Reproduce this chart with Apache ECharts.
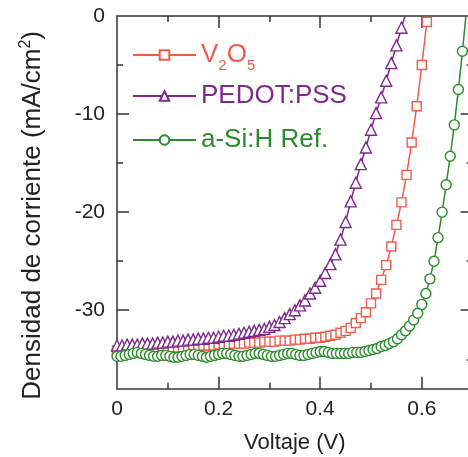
<!DOCTYPE html>
<html>
<head>
<meta charset="utf-8">
<script src="https://cdn.jsdelivr.net/npm/echarts@6/dist/echarts.min.js"></script>
<style>
  html, body { margin: 0; padding: 0; background: #fff; }
  #chart { width: 468px; height: 457px; }
</style>
</head>
<body>
<div id="chart"></div>
<script>
// voltaje (V) para V2O5 y PEDOT:PSS
const voltaje = [0, 0.01, 0.02, 0.03, 0.04, 0.05, 0.06, 0.07, 0.08, 0.09,
  0.10, 0.11, 0.12, 0.13, 0.14, 0.15, 0.16, 0.17, 0.18, 0.19,
  0.20, 0.21, 0.22, 0.23, 0.24, 0.25, 0.26, 0.27, 0.28, 0.29,
  0.30, 0.31, 0.32, 0.33, 0.34, 0.35, 0.36, 0.37, 0.38, 0.39,
  0.40, 0.41, 0.42, 0.43, 0.44, 0.45, 0.46, 0.47, 0.48, 0.49,
  0.50, 0.51, 0.52, 0.53, 0.54, 0.55, 0.56, 0.57, 0.58, 0.59,
  0.60, 0.61];

const jV2O5 = [-34.1, -34.1, -34.0, -34.0, -34.0, -34.0, -34.0, -33.9, -33.9, -33.9,
  -33.9, -33.8, -33.8, -33.8, -33.7, -33.7, -33.7, -33.6, -33.6, -33.6,
  -33.5, -33.5, -33.5, -33.4, -33.4, -33.4, -33.3, -33.3, -33.3, -33.2,
  -33.2, -33.2, -33.1, -33.1, -33.1, -33.0, -33.0, -32.9, -32.9, -32.8,
  -32.8, -32.7, -32.6, -32.5, -32.3, -32.1, -31.8, -31.3, -30.8, -30.2,
  -29.3, -28.3, -26.9, -25.4, -23.5, -21.3, -19.0, -16.2, -12.9, -9.2,
  -5.0, -0.6];

const jPEDOT = [-33.6, -33.6, -33.5, -33.5, -33.5, -33.4, -33.4, -33.4, -33.3, -33.3,
  -33.2, -33.2, -33.1, -33.1, -33.0, -33.0, -32.9, -32.9, -32.8, -32.8,
  -32.7, -32.6, -32.6, -32.5, -32.4, -32.3, -32.2, -32.1, -32.0, -31.9,
  -31.7, -31.5, -31.2, -30.8, -30.4, -30.0, -29.5, -29.0, -28.3, -27.7,
  -27.0, -26.2, -25.3, -24.3, -22.8, -21.0, -18.9, -17.0, -15.1, -13.4,
  -11.6, -9.9, -8.3, -6.6, -4.8, -3.0, -1.2, 0.5];

// a-Si:H de referencia, medida con paso más fino
const voltajeSi = [0, 0.008, 0.016, 0.024, 0.032, 0.040, 0.048, 0.056, 0.064, 0.072,
  0.080, 0.088, 0.096, 0.104, 0.112, 0.120, 0.128, 0.136, 0.144, 0.152,
  0.160, 0.168, 0.176, 0.184, 0.192, 0.200, 0.208, 0.216, 0.224, 0.232,
  0.240, 0.248, 0.256, 0.264, 0.272, 0.280, 0.288, 0.296, 0.304, 0.312,
  0.320, 0.328, 0.336, 0.344, 0.352, 0.360, 0.368, 0.376, 0.384, 0.392,
  0.400, 0.408, 0.416, 0.424, 0.432, 0.440, 0.448, 0.456, 0.464, 0.472,
  0.480, 0.488, 0.496, 0.504, 0.512, 0.520, 0.528, 0.536, 0.544, 0.552,
  0.560, 0.568, 0.576, 0.584, 0.592, 0.600, 0.608, 0.616, 0.624, 0.632,
  0.640, 0.648, 0.656, 0.664, 0.672, 0.680, 0.688];

const jSi = [-34.7, -34.7, -34.6, -34.5, -34.4, -34.3, -34.4, -34.5, -34.6, -34.7,
  -34.7, -34.6, -34.6, -34.7, -34.8, -34.8, -34.7, -34.6, -34.5, -34.5,
  -34.6, -34.7, -34.8, -34.7, -34.6, -34.5, -34.4, -34.4, -34.5, -34.6,
  -34.7, -34.7, -34.6, -34.5, -34.4, -34.4, -34.5, -34.6, -34.7, -34.7,
  -34.6, -34.5, -34.4, -34.4, -34.5, -34.6, -34.6, -34.5, -34.4, -34.3,
  -34.2, -34.2, -34.3, -34.4, -34.4, -34.4, -34.4, -34.4, -34.3, -34.3,
  -34.3, -34.2, -34.1, -34.0, -33.9, -33.7, -33.6, -33.4, -33.2, -32.9,
  -32.5, -32.1, -31.6, -31.0, -30.3, -29.4, -28.3, -26.8, -25.0, -22.6,
  -20.0, -17.2, -14.3, -11.1, -7.5, -3.6, 0.6];

const xLabels = [0, 0.2, 0.4, 0.6];
const xMinor = [0.1, 0.3, 0.5];
const yLabels = [0, -10, -20, -30];
const yMinor = [-5, -15, -25, -35];

const ROJO = '#ef5b4c';
const MORADO = '#7d2a8b';
const VERDE = '#2b8a2b';
const EJE = '#333';
const FUENTE = '"Liberation Sans", Arial, sans-serif';

const chart = echarts.init(document.getElementById('chart'), null, { renderer: 'canvas' });

const pares = (v, j) => j.map((y, i) => [v[i], y]);

const serie = (name, v, j, color, symbol, size) => ({
  name: name,
  type: 'line',
  xAxisIndex: 0,
  yAxisIndex: 0,
  data: pares(v, j),
  symbol: symbol,
  symbolSize: size,
  showAllSymbol: true,
  clip: true,
  lineStyle: { color: color, width: 1.5 },
  itemStyle: { color: '#fff', borderColor: color, borderWidth: 1.4 },
  emphasis: { disabled: true }
});

// ejes auxiliares solo para marcas (mayores / menores)
const ejeX = (pos, ticks, len, showLine) => ({
  type: 'value', min: 0, max: 0.7, position: pos,
  axisLine: { show: showLine, onZero: false, lineStyle: { color: EJE, width: 1.5 } },
  axisTick: { show: true, inside: true, length: len, customValues: ticks, lineStyle: { color: EJE, width: 1.5 } },
  axisLabel: { show: false },
  splitLine: { show: false }
});
const ejeY = (pos, ticks, len, showLine) => ({
  type: 'value', min: -38, max: 0, position: pos,
  axisLine: { show: showLine, onZero: false, lineStyle: { color: EJE, width: 1.5 } },
  axisTick: { show: true, inside: true, length: len, customValues: ticks, lineStyle: { color: EJE, width: 1.5 } },
  axisLabel: { show: false },
  splitLine: { show: false }
});

const xPrincipal = ejeX('bottom', [0.2, 0.4, 0.6], 12, true);
xPrincipal.axisLabel = { show: true, customValues: xLabels, fontSize: 21, color: '#222', fontFamily: FUENTE, margin: 10 };
xPrincipal.name = 'Voltaje (V)';
xPrincipal.nameLocation = 'middle';
xPrincipal.nameGap = 43;
xPrincipal.nameTextStyle = { fontSize: 22, color: '#222', fontFamily: FUENTE };

const yPrincipal = ejeY('left', [-10, -20, -30], 12, true);
yPrincipal.axisLabel = { show: true, customValues: yLabels, fontSize: 21, color: '#222', fontFamily: FUENTE, margin: 12 };
yPrincipal.name = '{a|Densidad de corriente (mA/cm}{s|2}{a|)}';
yPrincipal.nameLocation = 'middle';
yPrincipal.nameGap = 70;
yPrincipal.nameRotate = 90;
yPrincipal.nameTextStyle = {
  color: '#222', fontFamily: FUENTE, padding: [0, 26, 0, 0],
  rich: {
    a: { fontSize: 26, color: '#222', fontFamily: FUENTE },
    s: { fontSize: 16, color: '#222', fontFamily: FUENTE, padding: [0, 0, 13, 0] }
  }
};

const leyenda = (name, top, color, fmt, rich) => ({
  data: [name],
  left: 132,
  top: top,
  padding: 0,
  itemWidth: 63,
  itemHeight: 12,
  selectedMode: false,
  formatter: fmt,
  textStyle: { fontSize: 26, color: color, fontFamily: FUENTE, rich: rich }
});

chart.setOption({
  animation: false,
  grid: { left: 117, top: 16, right: -4.6, bottom: 68.3, containLabel: false, outerBoundsMode: 'none' },
  xAxis: [
    xPrincipal,
    ejeX('bottom', xMinor, 6, false),
    ejeX('top', [0.2, 0.4, 0.6], 12, true),
    ejeX('top', xMinor, 6, false)
  ],
  yAxis: [
    yPrincipal,
    ejeY('left', yMinor, 6, false),
    ejeY('right', [-10, -20, -30], 12, true),
    ejeY('right', yMinor, 6, false)
  ],
  legend: [
    leyenda('V2O5', 42, ROJO, () => '{n|V}{s|2}{n|O}{s|5}', {
      n: { fontSize: 26, color: ROJO, fontFamily: FUENTE },
      s: { fontSize: 15, color: ROJO, fontFamily: FUENTE, padding: [22, 0, 0, 0] }
    }),
    leyenda('PEDOT:PSS', 83, MORADO),
    leyenda('a-Si:H Ref.', 127, VERDE)
  ],
  series: [
    serie('V2O5', voltaje, jV2O5, ROJO, 'rect', 9),
    serie('PEDOT:PSS', voltaje, jPEDOT, MORADO, 'triangle', 11),
    serie('a-Si:H Ref.', voltajeSi, jSi, VERDE, 'circle', 10)
  ]
});
</script>
</body>
</html>
